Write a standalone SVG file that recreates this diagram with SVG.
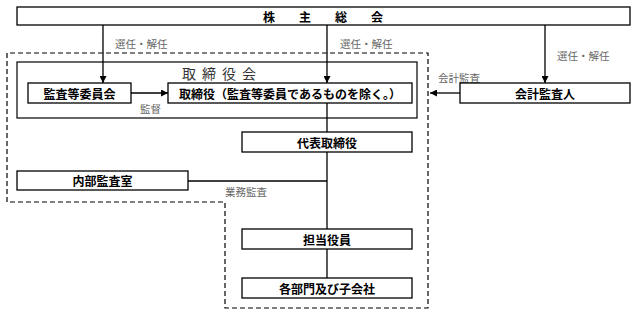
<svg xmlns="http://www.w3.org/2000/svg" width="635" height="318" viewBox="0 0 635 318">
<defs>
<marker id="ah" viewBox="0 0 10 10" refX="10" refY="5" markerWidth="7" markerHeight="7" markerUnits="userSpaceOnUse" orient="auto"><path d="M0,0 L10,5 L0,10 z" fill="#000"/></marker>
</defs>
<style>
.box{fill:#fff;stroke:#000;stroke-width:1.3}
.t{font-family:"Noto Sans CJK JP","Noto Sans CJK SC",sans-serif;font-size:12px;font-weight:bold;fill:#000;text-anchor:middle;dominant-baseline:central}
.l{font-family:"Noto Sans CJK JP","Noto Sans CJK SC",sans-serif;font-size:10.5px;fill:#666;dominant-baseline:central}
.c{fill:none;stroke:#000;stroke-width:1.3}
.d{fill:none;stroke:#000;stroke-width:1.2;stroke-dasharray:5,3}
</style>
<g id="group-boundary">
<path class="d" d="M7,202 V53 H428 V308 H225 V202 Z"/>
</g>
<g id="board">
<rect x="17" y="62" width="400" height="56" fill="#fff" stroke="#000" stroke-width="1.2"/>
<text x="222" y="73" font-family="'Noto Sans CJK JP',sans-serif" font-size="14" fill="#333" text-anchor="middle" dominant-baseline="central" letter-spacing="6">取締役会</text>
</g>
<g id="connectors">
<path class="c" d="M103,25 V83" marker-end="url(#ah)"/>
<path class="c" d="M327,25 V83" marker-end="url(#ah)"/>
<path class="c" d="M545,25 V83" marker-end="url(#ah)"/>
<path class="c" d="M131,93 H168" marker-end="url(#ah)"/>
<path class="c" d="M460,93 H430" marker-end="url(#ah)"/>
<path class="c" d="M327,103 V298"/>
<path class="c" d="M188,181 H327"/>
<text class="l" x="115" y="43">選任・解任</text>
<text class="l" x="340" y="43">選任・解任</text>
<text class="l" x="557" y="55">選任・解任</text>
<text class="l" x="140" y="108">監督</text>
<text class="l" x="438" y="77">会計監査</text>
<text class="l" x="225" y="191">業務監査</text>
</g>
<g id="shareholders">
<rect class="box" x="17" y="7" width="613" height="18"/>
<text class="t" x="323" y="16" xml:space="preserve">株　　主　　総　　会</text>
</g>
<g id="audit-committee">
<rect class="box" x="28" y="83" width="103" height="20"/>
<text class="t" x="79.5" y="93">監査等委員会</text>
</g>
<g id="directors">
<rect class="box" x="168" y="83" width="244" height="20"/>
<text class="t" x="290" y="93">取締役（監査等委員であるものを除く。）</text>
</g>
<g id="auditor">
<rect class="box" x="460" y="83" width="170" height="20"/>
<text class="t" x="545" y="93">会計監査人</text>
</g>
<g id="representative">
<rect class="box" x="242" y="132" width="170" height="20"/>
<text class="t" x="327" y="142">代表取締役</text>
</g>
<g id="internal-audit">
<rect class="box" x="17" y="171" width="171" height="19"/>
<text class="t" x="102.5" y="180.5">内部監査室</text>
</g>
<g id="officers">
<rect class="box" x="242" y="229" width="170" height="20"/>
<text class="t" x="327" y="239">担当役員</text>
</g>
<g id="divisions">
<rect class="box" x="242" y="278" width="170" height="20"/>
<text class="t" x="327" y="288">各部門及び子会社</text>
</g>
</svg>
